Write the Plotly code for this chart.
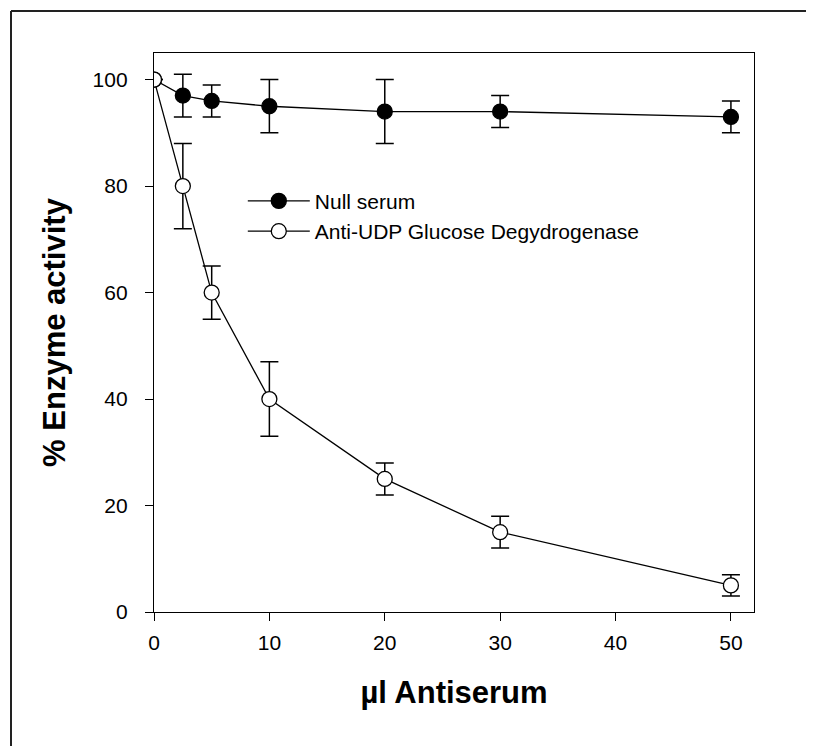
import plotly.graph_objects as go

x_vals = [0, 2.5, 5, 10, 20, 30, 50]
null_y = [100, 97, 96, 95, 94, 94, 93]
null_err = [None, 4, 3, 5, 6, 3, 3]
anti_y = [100, 80, 60, 40, 25, 15, 5]
anti_err = [None, 8, 5, 7, 3, 3, 2]

x_ticks = [0, 10, 20, 30, 40, 50]
y_ticks = [0, 20, 40, 60, 80, 100]

FONT = "Liberation Sans, Arial, sans-serif"

fig = go.Figure()
fig.add_trace(go.Scatter(
    x=x_vals, y=null_y, name="Null serum", mode="lines+markers",
    line=dict(color="black", width=1.3),
    marker=dict(symbol="circle", size=15, color="black", line=dict(color="black", width=1.3)),
    error_y=dict(type="data", array=null_err, visible=True, color="black", thickness=1.5, width=9),
))
fig.add_trace(go.Scatter(
    x=x_vals, y=anti_y, name="Anti-UDP Glucose Degydrogenase", mode="lines+markers",
    line=dict(color="black", width=1.3),
    marker=dict(symbol="circle", size=15, color="white", line=dict(color="black", width=1.3)),
    error_y=dict(type="data", array=anti_err, visible=True, color="black", thickness=1.5, width=9),
))

bx = (3 - 146) / 600
by = (604 - 3) / 559

fig.update_layout(
    width=806, height=738,
    margin=dict(l=146, r=60, t=45, b=134),
    paper_bgcolor="white", plot_bgcolor="white",
    font=dict(family=FONT, size=20, color="black"),
    showlegend=True,
    legend=dict(x=0.148, y=0.708, xanchor="left", yanchor="middle",
                bgcolor="rgba(0,0,0,0)", font=dict(size=21, family=FONT),
                tracegroupgap=0, itemwidth=62),
    xaxis=dict(range=[0, 52], tickvals=x_ticks, showgrid=False, zeroline=False,
               showline=True, linecolor="black", linewidth=1.3, mirror=True,
               ticks="outside", ticklen=8, tickwidth=1.3, tickcolor="black",
               tickfont=dict(size=21, family=FONT), ticklabelstandoff=4,
               title=dict(text="<b>µl Antiserum</b>", font=dict(size=31, family=FONT), standoff=27)),
    yaxis=dict(range=[0, 105], tickvals=y_ticks, showgrid=False, zeroline=False,
               showline=True, linecolor="black", linewidth=1.3, mirror=True,
               ticks="outside", ticklen=8, tickwidth=1.3, tickcolor="black",
               tickfont=dict(size=21, family=FONT), ticklabelstandoff=13,
               title=dict(text="<b>% Enzyme activity</b>", font=dict(size=31, family=FONT), standoff=17)),
    shapes=[
        dict(type="line", xref="paper", yref="paper", x0=bx, x1=3, y0=by, y1=by,
             line=dict(color="#222", width=2), layer="below"),
        dict(type="line", xref="paper", yref="paper", x0=bx, x1=bx, y0=by, y1=-3,
             line=dict(color="#222", width=2), layer="below"),
    ],
)

fig.write_html("out.html")
